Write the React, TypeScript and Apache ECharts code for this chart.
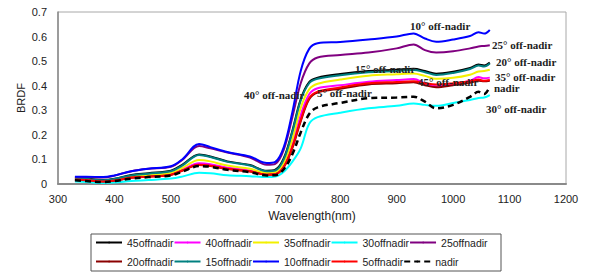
import React, { useEffect, useRef } from "react";
import * as echarts from "echarts";

const wavelengths = [330, 350, 380, 400, 430, 460, 500, 520, 550, 570, 600, 640, 670, 685, 700, 715, 730, 745, 760, 800, 850, 900, 930, 950, 970, 1000, 1030, 1045, 1055, 1065];

const off45 = [0.024, 0.022, 0.016, 0.021, 0.037, 0.044, 0.054, 0.078, 0.12, 0.112, 0.092, 0.077, 0.054, 0.058, 0.105, 0.215, 0.345, 0.415, 0.433, 0.448, 0.46, 0.465, 0.469, 0.46, 0.449, 0.457, 0.472, 0.486, 0.482, 0.494];
const off40 = [0.018, 0.016, 0.01, 0.014, 0.026, 0.032, 0.04, 0.058, 0.084, 0.08, 0.066, 0.055, 0.04, 0.043, 0.075, 0.16, 0.28, 0.365, 0.39, 0.402, 0.416, 0.423, 0.427, 0.41, 0.398, 0.405, 0.42, 0.435, 0.43, 0.433];
const off35 = [0.02, 0.018, 0.012, 0.016, 0.03, 0.036, 0.045, 0.065, 0.098, 0.092, 0.075, 0.062, 0.045, 0.048, 0.085, 0.18, 0.31, 0.385, 0.408, 0.425, 0.441, 0.447, 0.45, 0.44, 0.428, 0.432, 0.445, 0.458, 0.46, 0.465];
const off30 = [0.01, 0.008, 0.004, 0.006, 0.012, 0.016, 0.022, 0.03, 0.046, 0.044, 0.036, 0.032, 0.028, 0.03, 0.05, 0.09, 0.145, 0.245, 0.272, 0.29, 0.308, 0.318, 0.328, 0.322, 0.318, 0.33, 0.342, 0.35, 0.352, 0.362];
const off25 = [0.028, 0.028, 0.026, 0.034, 0.052, 0.062, 0.07, 0.098, 0.155, 0.145, 0.128, 0.108, 0.078, 0.082, 0.14, 0.27, 0.41, 0.49, 0.515, 0.525, 0.535, 0.552, 0.568, 0.545, 0.535, 0.54, 0.552, 0.56, 0.562, 0.565];
const off20 = [0.017, 0.015, 0.01, 0.013, 0.025, 0.03, 0.037, 0.054, 0.077, 0.073, 0.061, 0.051, 0.038, 0.04, 0.068, 0.145, 0.255, 0.345, 0.372, 0.388, 0.405, 0.41, 0.414, 0.402, 0.394, 0.402, 0.412, 0.42, 0.418, 0.42];
const off15 = [0.022, 0.02, 0.015, 0.02, 0.035, 0.042, 0.052, 0.075, 0.118, 0.11, 0.09, 0.075, 0.052, 0.055, 0.1, 0.21, 0.34, 0.41, 0.428, 0.443, 0.455, 0.46, 0.464, 0.455, 0.444, 0.452, 0.468, 0.482, 0.478, 0.49];
const off10 = [0.03, 0.03, 0.028, 0.035, 0.052, 0.062, 0.072, 0.1, 0.163, 0.15, 0.13, 0.112, 0.085, 0.09, 0.15, 0.29, 0.46, 0.55, 0.573, 0.578, 0.588, 0.6, 0.613, 0.592, 0.579, 0.588, 0.602, 0.618, 0.612, 0.627];
const off5 = [0.018, 0.016, 0.01, 0.014, 0.026, 0.03, 0.038, 0.055, 0.078, 0.074, 0.062, 0.052, 0.038, 0.04, 0.07, 0.15, 0.26, 0.35, 0.376, 0.393, 0.41, 0.415, 0.418, 0.41, 0.405, 0.41, 0.418, 0.425, 0.42, 0.423];
const nadir = [0.015, 0.012, 0.008, 0.012, 0.022, 0.028, 0.035, 0.05, 0.073, 0.07, 0.058, 0.048, 0.035, 0.036, 0.06, 0.12, 0.21, 0.285, 0.312, 0.33, 0.349, 0.352, 0.355, 0.335, 0.308, 0.322, 0.355, 0.375, 0.366, 0.396];

const seriesNames = ["45offnadir", "40offnadir", "35offnadir", "30offnadir", "25offnadir", "20offnadir", "15offnadir", "10offnadir", "5offnadir", "nadir"];
const seriesValues = [off45, off40, off35, off30, off25, off20, off15, off10, off5, nadir];
const seriesColors = ["#000000", "#ff00ff", "#f2f000", "#00ffff", "#800080", "#8b0000", "#008080", "#0000ff", "#ff0000", "#000000"];

const xTicks = { min: 300, max: 1200, step: 100 };
const yTicks = { min: 0, max: 0.7, step: 0.1 };

const annotations = [
  { text: "10° off-nadir", x: 410, y: 26 },
  { text: "25° off-nadir", x: 492, y: 45 },
  { text: "20° off-nadir", x: 496, y: 62 },
  { text: "15° off-nadir", x: 355, y: 69 },
  { text: "35° off-nadir", x: 495, y: 77 },
  { text: "45° off-nadir", x: 418, y: 82 },
  { text: "nadir", x: 494, y: 88 },
  { text: "5° off-nadir", x: 317, y: 93 },
  { text: "40° off-nadir", x: 244, y: 95 },
  { text: "30° off-nadir", x: 486, y: 109 },
];

const FONT = "'Liberation Sans', Arial, sans-serif";
const DASH_ICON = "path://M0,0h7v2h-7zM9.5,0h7v2h-7zM19,0h7v2h-7z";

export default function App() {
  const ref = useRef<HTMLDivElement>(null);
  useEffect(() => {
    document.body.style.margin = "0";
    const chart = echarts.init(ref.current!, null, { renderer: "svg" });
    const series = seriesNames.map((name, i) => ({
      name,
      type: "line",
      data: wavelengths.map((w, j) => [w, seriesValues[i][j]]),
      symbol: "none",
      smooth: 0.35,
      legendIcon: name === "nadir" ? DASH_ICON : "rect",
      lineStyle: {
        color: seriesColors[i],
        width: name === "nadir" ? 2.5 : 2,
        type: name === "nadir" ? [6, 4] : "solid",
      },
      itemStyle: { color: seriesColors[i] },
      z: name === "nadir" ? 3 : 2,
    }));
    const legendCommon = {
      itemWidth: 26,
      itemHeight: 2,
      itemGap: 0,
      padding: 0,
      orient: "horizontal",
      textStyle: { fontFamily: FONT, fontSize: 10.5, color: "#222", width: 48 },
      selectedMode: false,
    };
    chart.setOption({
      animation: false,
      textStyle: { fontFamily: FONT },
      grid: { left: 58, right: 25, top: 12, bottom: 93, show: true, borderColor: "#a8a8a8", borderWidth: 1 },
      xAxis: {
        type: "value",
        min: xTicks.min,
        max: xTicks.max,
        interval: xTicks.step,
        name: "Wavelength(nm)",
        nameLocation: "middle",
        nameGap: 26,
        nameTextStyle: { fontFamily: FONT, fontSize: 12, color: "#222" },
        axisLine: { show: true, lineStyle: { color: "#8a8a8a", width: 2 } },
        axisTick: { show: false },
        splitLine: { show: false },
        axisLabel: { fontFamily: FONT, fontSize: 11, color: "#222", margin: 9, formatter: (v: number) => String(v) },
      },
      yAxis: {
        type: "value",
        min: yTicks.min,
        max: yTicks.max,
        interval: yTicks.step,
        name: "BRDF",
        nameLocation: "middle",
        nameGap: 32,
        nameMoveOverlap: false,
        nameTextStyle: { fontFamily: FONT, fontSize: 11, color: "#222" },
        axisLine: { show: true, lineStyle: { color: "#8a8a8a", width: 1.5 } },
        axisTick: { show: false },
        splitLine: { show: false },
        axisLabel: { fontFamily: FONT, fontSize: 11, color: "#222", margin: 11, formatter: (v: number) => (v === 0 ? "0" : v.toFixed(1)) },
      },
      legend: [
        { ...legendCommon, left: 95, top: 237, data: seriesNames.slice(0, 5) },
        { ...legendCommon, left: 95, top: 256, data: seriesNames.slice(5) },
      ],
      graphic: [
        {
          type: "rect",
          shape: { x: 91, y: 234, width: 410, height: 37 },
          style: { fill: "none", stroke: "#555", lineWidth: 1 },
          silent: true,
        },
        ...annotations.map((a) => ({
          type: "text",
          x: a.x,
          y: a.y,
          style: {
            text: a.text,
            fontFamily: "'Liberation Serif', serif",
            fontWeight: "bold",
            fontSize: 11,
            fill: "#222",
            textVerticalAlign: "middle",
          },
          z: 10,
        })),
      ],
      series,
    });
    return () => chart.dispose();
  }, []);
  return <div ref={ref} style={{ width: 591, height: 277 }} />;
}
